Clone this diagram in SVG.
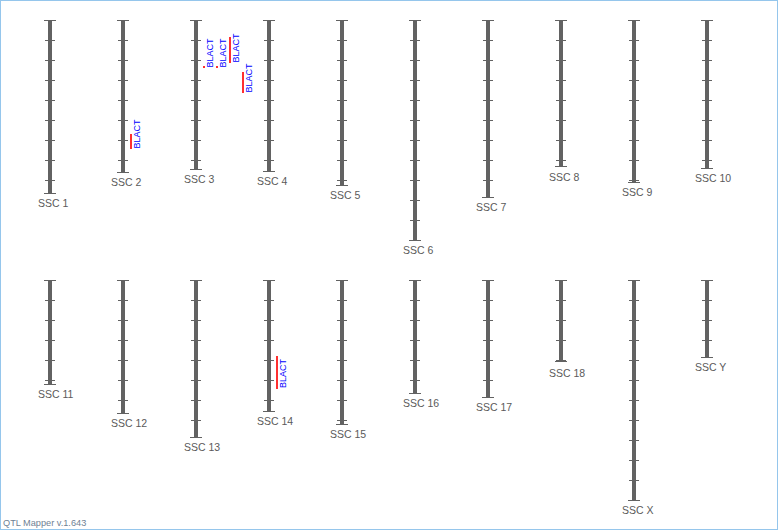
<svg xmlns="http://www.w3.org/2000/svg" width="778" height="530" viewBox="0 0 778 530">
<style>
.bar{fill:#626262}
.tk{stroke:#626262;stroke-width:1;fill:none}
.lbl{font-family:"Liberation Sans",Arial,sans-serif;font-size:10.5px;fill:#5a5a5a}
.q{fill:#ff3030}
.qt{font-family:"Liberation Sans",Arial,sans-serif;font-size:9px;fill:#0000ff}
.ft{font-family:"Liberation Sans",Arial,sans-serif;font-size:9.2px;fill:#6f7f94}
</style>
<rect x="0.5" y="0.5" width="777" height="529" fill="#ffffff" stroke="#95c6ec"/>
<g id="ssc1"><rect class="bar" x="48" y="20" width="4" height="174"/><path class="tk" d="M44 20.5H56M44 193.5H56M45 40.5H55M45 60.5H55M45 80.5H55M45 100.5H55M45 120.5H55M45 140.5H55M45 160.5H55M45 180.5H55"/><text class="lbl" x="38" y="207">SSC 1</text></g>
<g id="ssc2"><rect class="bar" x="121" y="20" width="4" height="153"/><path class="tk" d="M117 20.5H129M117 172.5H129M118 40.5H128M118 60.5H128M118 80.5H128M118 100.5H128M118 120.5H128M118 140.5H128M118 160.5H128"/><text class="lbl" x="111" y="186">SSC 2</text>
<rect class="q" x="130" y="134" width="2" height="15"/><text class="qt" transform="translate(140,148.5) rotate(-90)">BLACT</text></g>
<g id="ssc3"><rect class="bar" x="194" y="20" width="4" height="150"/><path class="tk" d="M190 20.5H202M190 169.5H202M191 40.5H201M191 60.5H201M191 80.5H201M191 100.5H201M191 120.5H201M191 140.5H201M191 160.5H201"/><text class="lbl" x="184" y="183">SSC 3</text>
<rect class="q" x="203" y="66" width="2" height="2"/><text class="qt" transform="translate(213,67.5) rotate(-90)">BLACT</text>
<rect class="q" x="216" y="66" width="2" height="2"/><text class="qt" transform="translate(226,67.5) rotate(-90)">BLACT</text>
<rect class="q" x="229" y="37" width="2" height="26"/><text class="qt" transform="translate(239,62.5) rotate(-90)">BLACT</text>
<rect class="q" x="242" y="72" width="2" height="21"/><text class="qt" transform="translate(252,92.5) rotate(-90)">BLACT</text></g>
<g id="ssc4"><rect class="bar" x="267" y="20" width="4" height="152"/><path class="tk" d="M263 20.5H275M263 171.5H275M264 40.5H274M264 60.5H274M264 80.5H274M264 100.5H274M264 120.5H274M264 140.5H274M264 160.5H274"/><text class="lbl" x="257" y="185">SSC 4</text></g>
<g id="ssc5"><rect class="bar" x="340" y="20" width="4" height="166"/><path class="tk" d="M336 20.5H348M336 185.5H348M337 40.5H347M337 60.5H347M337 80.5H347M337 100.5H347M337 120.5H347M337 140.5H347M337 160.5H347M337 180.5H347"/><text class="lbl" x="330" y="199">SSC 5</text></g>
<g id="ssc6"><rect class="bar" x="413" y="20" width="4" height="221"/><path class="tk" d="M409 20.5H421M409 240.5H421M410 40.5H420M410 60.5H420M410 80.5H420M410 100.5H420M410 120.5H420M410 140.5H420M410 160.5H420M410 180.5H420M410 200.5H420M410 220.5H420"/><text class="lbl" x="403" y="254">SSC 6</text></g>
<g id="ssc7"><rect class="bar" x="486" y="20" width="4" height="178"/><path class="tk" d="M482 20.5H494M482 197.5H494M483 40.5H493M483 60.5H493M483 80.5H493M483 100.5H493M483 120.5H493M483 140.5H493M483 160.5H493M483 180.5H493"/><text class="lbl" x="476" y="211">SSC 7</text></g>
<g id="ssc8"><rect class="bar" x="559" y="20" width="4" height="147"/><path class="tk" d="M555 20.5H567M555 166.5H567M556 40.5H566M556 60.5H566M556 80.5H566M556 100.5H566M556 120.5H566M556 140.5H566M556 160.5H566"/><text class="lbl" x="549" y="181">SSC 8</text></g>
<g id="ssc9"><rect class="bar" x="632" y="20" width="4" height="163"/><path class="tk" d="M628 20.5H640M628 182.5H640M629 40.5H639M629 60.5H639M629 80.5H639M629 100.5H639M629 120.5H639M629 140.5H639M629 160.5H639M629 180.5H639"/><text class="lbl" x="622" y="196">SSC 9</text></g>
<g id="ssc10"><rect class="bar" x="705" y="20" width="4" height="149"/><path class="tk" d="M701 20.5H713M701 168.5H713M702 40.5H712M702 60.5H712M702 80.5H712M702 100.5H712M702 120.5H712M702 140.5H712M702 160.5H712"/><text class="lbl" x="695" y="182">SSC 10</text></g>
<g id="ssc11"><rect class="bar" x="48" y="280" width="4" height="105"/><path class="tk" d="M44 280.5H56M44 384.5H56M45 300.5H55M45 320.5H55M45 340.5H55M45 360.5H55M45 380.5H55"/><text class="lbl" x="38" y="398">SSC 11</text></g>
<g id="ssc12"><rect class="bar" x="121" y="280" width="4" height="134"/><path class="tk" d="M117 280.5H129M117 413.5H129M118 300.5H128M118 320.5H128M118 340.5H128M118 360.5H128M118 380.5H128M118 400.5H128"/><text class="lbl" x="111" y="427">SSC 12</text></g>
<g id="ssc13"><rect class="bar" x="194" y="280" width="4" height="158"/><path class="tk" d="M190 280.5H202M190 437.5H202M191 300.5H201M191 320.5H201M191 340.5H201M191 360.5H201M191 380.5H201M191 400.5H201M191 420.5H201"/><text class="lbl" x="184" y="451">SSC 13</text></g>
<g id="ssc14"><rect class="bar" x="267" y="280" width="4" height="132"/><path class="tk" d="M263 280.5H275M263 411.5H275M264 300.5H274M264 320.5H274M264 340.5H274M264 360.5H274M264 380.5H274M264 400.5H274"/><text class="lbl" x="257" y="425">SSC 14</text>
<rect class="q" x="276" y="356" width="2" height="33"/><text class="qt" transform="translate(286,388) rotate(-90)">BLACT</text></g>
<g id="ssc15"><rect class="bar" x="340" y="280" width="4" height="145"/><path class="tk" d="M336 280.5H348M336 424.5H348M337 300.5H347M337 320.5H347M337 340.5H347M337 360.5H347M337 380.5H347M337 400.5H347M337 420.5H347"/><text class="lbl" x="330" y="438">SSC 15</text></g>
<g id="ssc16"><rect class="bar" x="413" y="280" width="4" height="114"/><path class="tk" d="M409 280.5H421M409 393.5H421M410 300.5H420M410 320.5H420M410 340.5H420M410 360.5H420M410 380.5H420"/><text class="lbl" x="403" y="407">SSC 16</text></g>
<g id="ssc17"><rect class="bar" x="486" y="280" width="4" height="118"/><path class="tk" d="M482 280.5H494M482 397.5H494M483 300.5H493M483 320.5H493M483 340.5H493M483 360.5H493M483 380.5H493"/><text class="lbl" x="476" y="411">SSC 17</text></g>
<g id="ssc18"><rect class="bar" x="559" y="280" width="4" height="82"/><path class="tk" d="M555 280.5H567M555 361.5H567M556 300.5H566M556 320.5H566M556 340.5H566M556 360.5H566"/><text class="lbl" x="549" y="377">SSC 18</text></g>
<g id="sscX"><rect class="bar" x="632" y="280" width="4" height="221"/><path class="tk" d="M628 280.5H640M628 500.5H640M629 300.5H639M629 320.5H639M629 340.5H639M629 360.5H639M629 380.5H639M629 400.5H639M629 420.5H639M629 440.5H639M629 460.5H639M629 480.5H639"/><text class="lbl" x="622" y="514">SSC X</text></g>
<g id="sscY"><rect class="bar" x="705" y="280" width="4" height="78"/><path class="tk" d="M701 280.5H713M701 357.5H713M702 300.5H712M702 320.5H712M702 340.5H712"/><text class="lbl" x="695" y="371">SSC Y</text></g>
<g id="connectors"></g>
<text class="ft" x="3" y="526">QTL Mapper v.1.643</text>
</svg>
